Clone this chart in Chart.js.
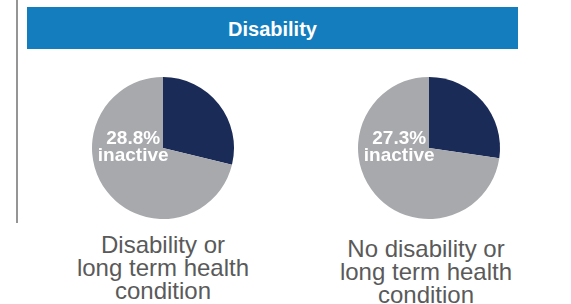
<!DOCTYPE html>
<html>
<head>
<meta charset="utf-8">
<script src="https://cdn.jsdelivr.net/npm/chart.js@4"></script>
<style>
    html, body {
        margin: 0;
        padding: 0;
        background: #ffffff;
    }
    #page {
        position: relative;
        width: 571px;
        height: 304px;
        overflow: hidden;
        font-family: 'Liberation Sans', Arial, sans-serif;
    }
    #rule {
        position: absolute;
        left: 16px;
        top: 0;
        width: 2px;
        height: 223px;
        background: #959595;
    }
    #header {
        position: absolute;
        left: 27px;
        top: 7px;
        width: 491px;
        height: 39px;
        padding-top: 3px;
        line-height: 39px;
        background: #137dbd;
        color: #ffffff;
        font-weight: bold;
        font-size: 20px;
        text-align: center;
    }
    .pie {
        position: absolute;
        top: 73px;
        width: 150px;
        height: 150px;
    }
    .caption {
        position: absolute;
        width: 220px;
        font-size: 24px;
        line-height: 23px;
        color: #5a5a5a;
        text-align: center;
    }
</style>
</head>
<body>
<div id="page">
    <div id="rule"></div>
    <div id="header">Disability</div>
    <div class="pie" style="left:88px"><canvas id="pie-0"></canvas></div>
    <div class="pie" style="left:354px"><canvas id="pie-1"></canvas></div>
    <div class="caption" id="caption-0" style="left:53px; top:233px"></div>
    <div class="caption" id="caption-1" style="left:316px; top:237px"></div>
</div>
<script>
const groups = ['Disability or long term health condition', 'No disability or long term health condition'];
const inactivePct = [28.8, 27.3];
const activePct = [71.2, 72.7];
const captionLines = [
    ['Disability or', 'long term health', 'condition'],
    ['No disability or', 'long term health', 'condition']
];
const sliceLabels = ['Inactive', 'Active'];
const sliceColors = ['#1b2b57', '#a7a9ac'];

// подпись "xx.x% inactive" слева от центра круга
const inactiveLabel = {
    id: 'inactiveLabel',
    afterDraw(chart) {
        const { ctx } = chart;
        const meta = chart.getDatasetMeta(0);
        if (!meta.data || meta.data.length === 0) return;
        const arc = meta.data[0];
        const x = arc.x - arc.outerRadius * 0.42;
        const y = arc.y;
        const value = chart.data.datasets[0].data[0];

        ctx.save();
        ctx.textAlign = 'center';
        ctx.textBaseline = 'alphabetic';
        ctx.fillStyle = '#ffffff';
        ctx.font = 'bold 19px "Liberation Sans", Arial, sans-serif';
        ctx.fillText(value.toFixed(1) + '%', x, y - 4);
        ctx.fillText('inactive', x, y + 13);
        ctx.restore();
    }
};

for (let i = 0; i < groups.length; i++) {
    document.getElementById('caption-' + i).innerHTML = captionLines[i].join('<br>');

    new Chart(document.getElementById('pie-' + i), {
        type: 'pie',
        data: {
            labels: sliceLabels,
            datasets: [{
                label: groups[i],
                data: [inactivePct[i], activePct[i]],
                backgroundColor: sliceColors,
                borderWidth: 0
            }]
        },
        options: {
            responsive: true,
            maintainAspectRatio: false,
            animation: false,
            layout: { padding: 4 },
            plugins: {
                legend: { display: false },
                tooltip: { enabled: false }
            }
        },
        plugins: [inactiveLabel]
    });
}
</script>
</body>
</html>
